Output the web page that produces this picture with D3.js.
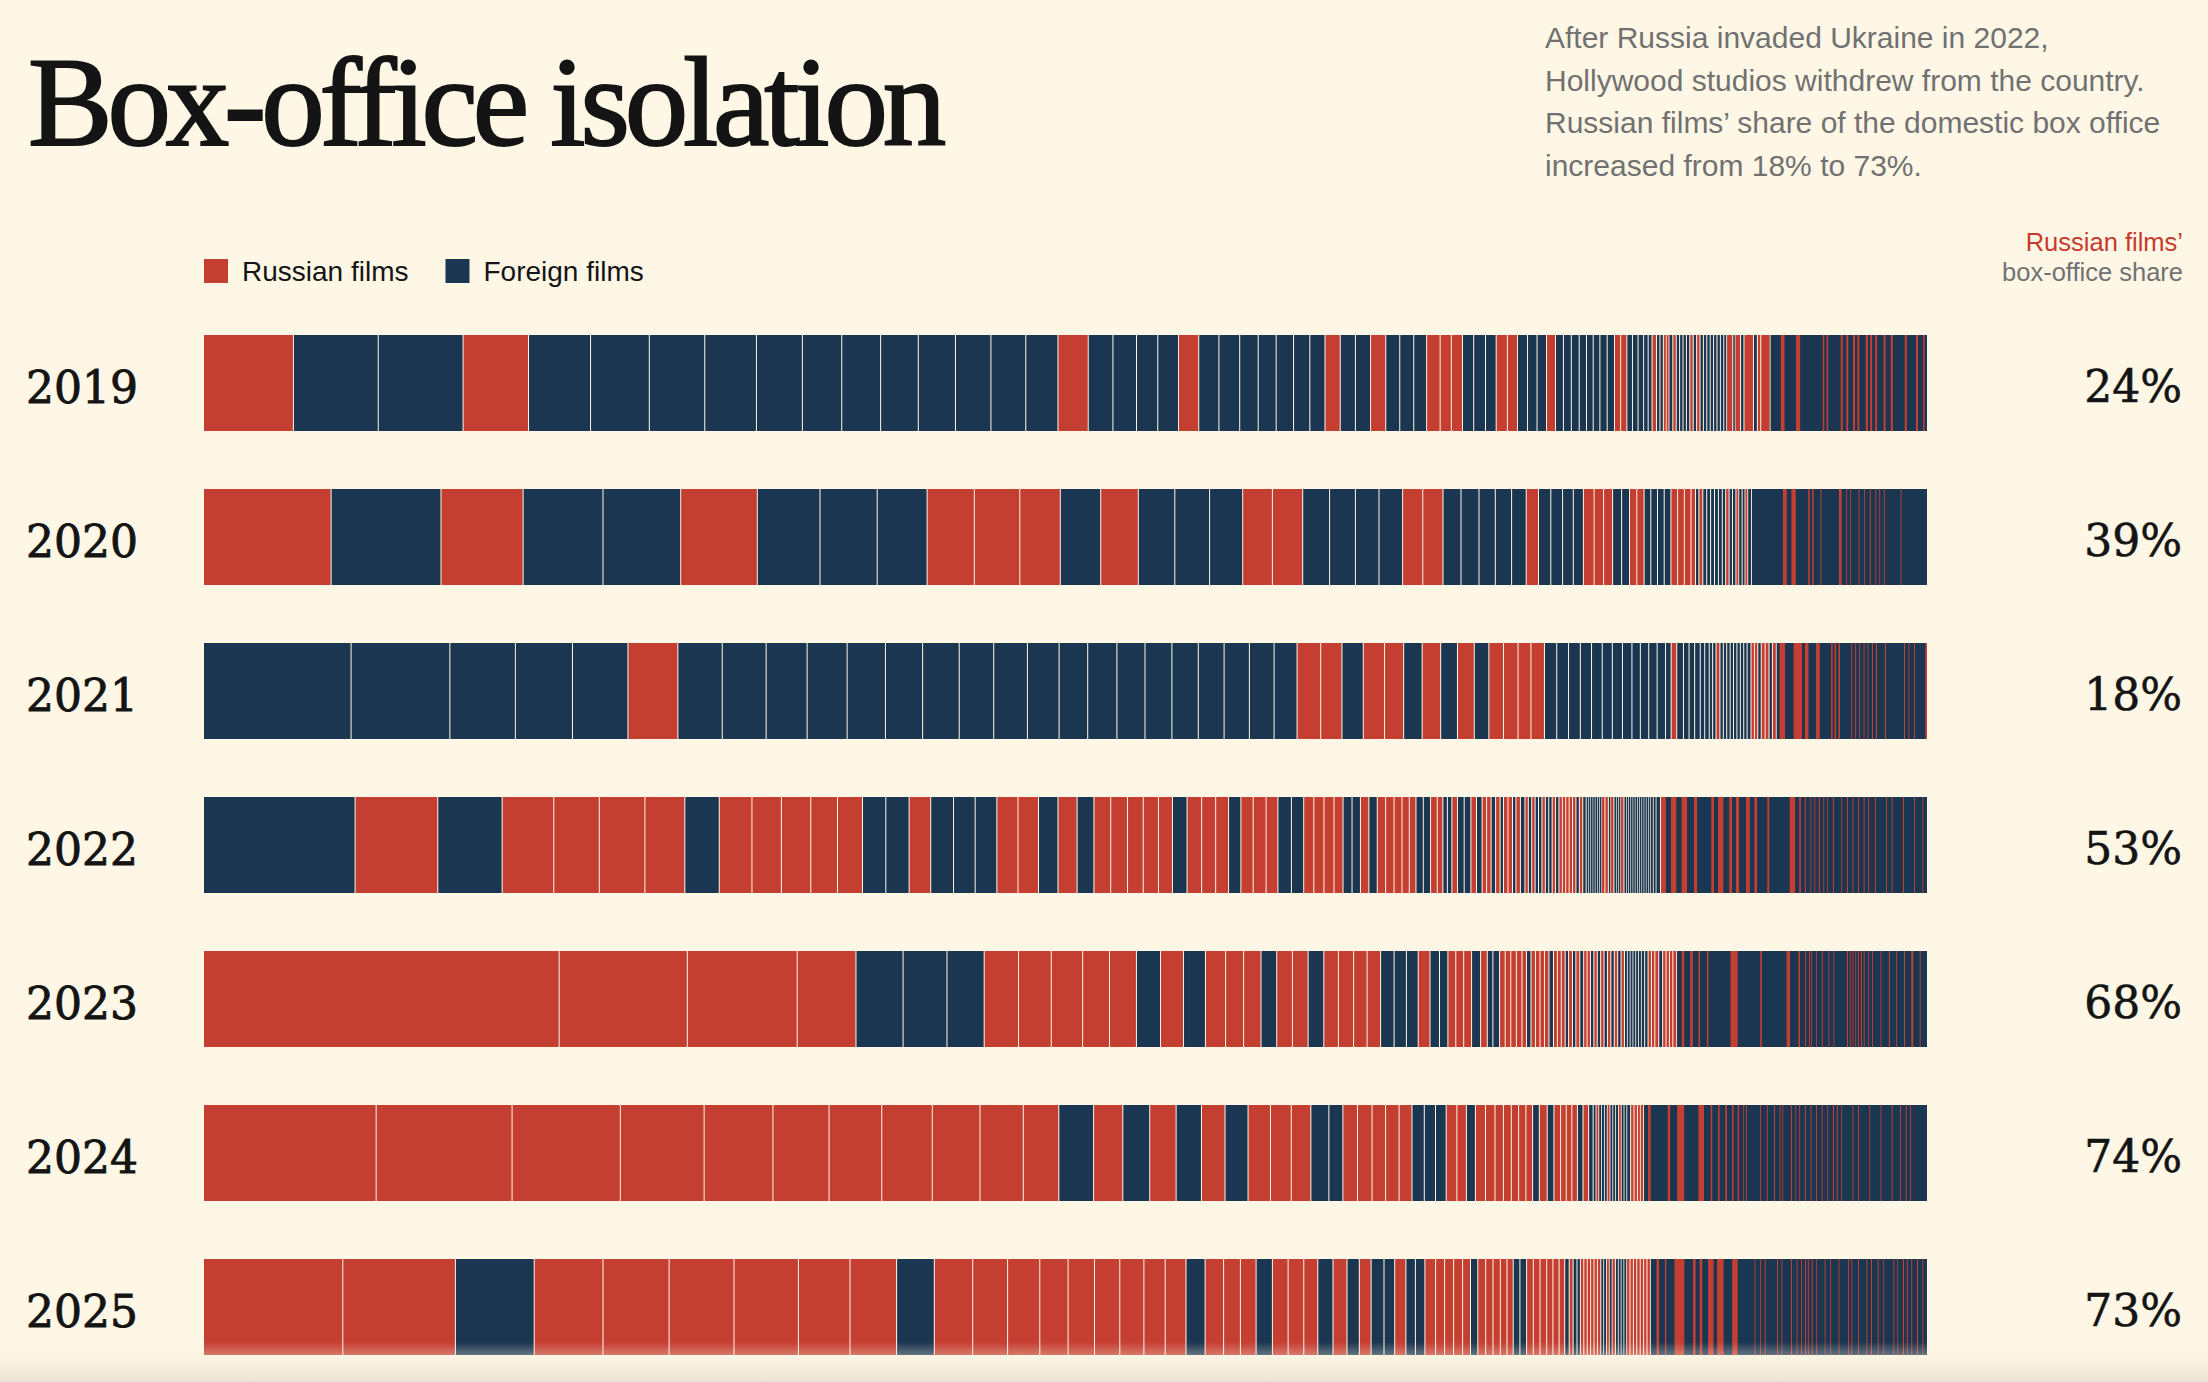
<!DOCTYPE html>
<html>
<head>
<meta charset="utf-8">
<script src="https://cdn.jsdelivr.net/npm/d3@7"></script>
<style>
  body { margin: 0; background: #fef7e6; }
  svg { display: block; }
</style>
</head>
<body>
<div id="chart"></div>
<script>
// Box-office isolation: every film's share of the Russian box office, biggest first
const R = "R", F = "F";
const years = ["2019", "2020", "2021", "2022", "2023", "2024", "2025"];
const russianShare = [24, 39, 18, 53, 68, 74, 73];

// [kind, share] per film, in box-office order; "tail" = films too small to draw apart
const films2019 = [[R,90],[F,84.9],[F,84.9],[R,65.5],[F,62.1],[F,58.8],[F,55.5],[F,51.7],[F,46.0],[F,39.4],[F,38.9],[F,37.7],[F,37.2],[F,35.5],[F,34.9],[F,32.2],
  [R,30.3],[F,24.7],[F,23.6],[F,21.3],[F,20.8],[R,20.2],[F,20.2],[F,20.8],[F,18.5],[F,18.0],[F,17.4],[F,16.3],[F,15.2],[R,15.2],[F,15.2],[F,15.2],[R,15.2],[F,14.0],[F,14.0],[F,12.9],
  [R,13.5],[R,11.2],[R,11.2],[F,11.2],[F,11.8],[F,10.7],[R,11.2],[R,10.1],[F,10.1],[F,9.5],[F,9.5],[R,9.0],[F,7.9],[F,7.9],[F,7.9],[F,7.3],[F,6.7],[F,6.7],[F,7.3],[F,7.3],
  [R,6.2],[R,6.2],[F,5.6],[F,5.6],[F,5.6],[F,4.5],[F,3.9],[R,4.5],[F,3.4],[F,3.4],[R,2.8],[R,2.8],[F,3.9],[R,3.4],[F,3.4],[F,3.4],[F,3.4],[F,3.4],[R,3.4],[F,3.4],[R,3.4],
  [F,3.4],[F,3.4],[F,3.4],[F,3.4],[F,3.4],[F,3.4],[F,3.4],[F,2.8],[R,6.2],[F,2.2],[R,5.6],[F,3.4],[R,9.5],[F,3.9],[R,3.4],[R,9.5]];
const tail2019 = [[F,10.1],[R,3.9],[F,11.2],[R,4.5],[F,22.4],[R,1.7],[F,2.2],[R,1.7],[F,12.3],[R,2.2],[F,3.4],[R,2.2],[F,4.5],[R,2.2],[F,2.2],[R,2.2],[F,6.2],[R,2.2],
  [F,2.2],[R,2.2],[F,2.8],[R,2.2],[F,6.2],[R,2.2],[F,5.0],[R,2.2],[F,11.8],[R,2.2],[F,9.0],[R,2.2],[F,5.0],[R,1.7],[F,2.2]];

const films2020 = [[R,127.6],[F,109.9],[R,82.1],[F,79.9],[F,77.7],[R,76.6],[F,62.7],[F,57.2],[F,49.9],[R,47.2],[R,45.5],[R,40.5],[F,40.4],[R,37.6],[F,36.5],[F,34.8],[F,33.1],
  [R,29.7],[R,30.3],[F,26.9],[F,25.8],[F,23.6],[F,23.6],[R,20.2],[R,20.2],[F,18.0],[F,18.0],[F,16.3],[F,16.3],[F,14.6],[R,12.3],[F,12.3],[F,11.8],[F,10.7],[F,10.1],
  [R,10.7],[R,9.5],[R,9.0],[F,9.0],[F,7.9],[R,7.3],[R,7.3],[F,6.7],[F,6.7],[F,6.7],[F,6.7],[R,6.7],[R,6.7],[R,6.7],[R,4.5],[F,3.4],[R,3.9],[F,3.9],[F,3.9],[F,3.9],
  [F,3.9],[F,3.9],[F,3.4],[R,3.4],[F,3.4],[F,3.4],[R,2.8],[F,3.4],[F,2.8],[R,2.8],[F,3.9]];
const tail2020 = [[F,30.9],[R,3.9],[F,4.5],[R,4.5],[F,12.3],[R,1.7],[F,2.2],[R,1.7],[F,6.7],[R,1.1],[F,17.4],[R,2.8],[F,4.5],[R,1.1],[F,2.8],[R,1.1],[F,7.3],[R,1.1],
  [F,4.5],[R,1.1],[F,4.5],[R,1.1],[F,4.5],[R,1.1],[F,2.8],[R,1.1],[F,3.4],[R,1.1],[F,15.7],[R,1.1],[F,25.3]];

const films2021 = [[F,147.6],[F,98.8],[F,65.5],[F,57.1],[F,55.5],[R,49.9],[F,44.4],[F,43.9],[F,41.0],[F,40.0],[F,38.3],[F,37.2],[F,36.6],[F,34.5],[F,33.7],[F,31.7],
  [F,28.6],[F,29.2],[F,28.1],[F,26.9],[F,26.4],[F,25.8],[F,25.3],[F,24.7],[F,23.0],[R,23.6],[R,21.3],[F,21.3],[R,21.3],[R,19.1],[F,18.5],[R,18.5],[F,16.8],[R,16.8],
  [F,14.6],[R,14.6],[R,14.6],[R,12.9],[R,13.5],[F,12.3],[F,11.8],[F,11.8],[F,11.2],[F,10.7],[F,10.1],[F,10.1],[F,9.5],[F,8.4],[F,8.4],[F,8.4],[F,8.4],[F,5.6],[R,5.6],
  [F,6.7],[F,5.6],[F,5.6],[F,5.6],[F,4.5],[F,4.5],[F,3.4],[F,3.4],[R,3.9],[F,3.4],[F,3.4],[F,3.4],[F,3.4],[F,3.4],[F,3.4],[F,3.4],[F,3.4],[F,3.9],[R,3.4],[R,3.4],
  [F,3.4],[R,3.9],[R,3.9],[F,3.4],[R,3.9]];
const tail2021 = [[F,2.8],[R,5.6],[F,8.4],[R,8.4],[F,2.8],[R,3.9],[F,7.3],[R,3.9],[F,11.2],[R,1.7],[F,1.7],[R,1.7],[F,2.2],[R,1.7],[F,11.2],[R,1.1],[F,2.8],[R,1.1],
  [F,2.8],[R,1.1],[F,3.4],[R,1.1],[F,2.8],[R,1.1],[F,3.4],[R,1.1],[F,2.8],[R,1.1],[F,7.9],[R,1.1],[F,18.0],[R,1.1],[F,3.4],[R,1.1],[F,4.5],[R,1.1],[F,10.1],[R,1.7]];

const films2022 = [[F,151.5],[R,82.7],[F,64.3],[R,51.6],[R,45.5],[R,45.6],[R,39.9],[F,34.4],[R,32.7],[R,29.4],[R,29.4],[R,26.7],[R,25.0],[F,23.3],[F,23.3],[R,21.6],
  [F,22.8],[F,21.6],[F,21.7],[R,21.1],[R,20.5],[F,19.5],[R,19.1],[F,16.8],[R,16.8],[R,16.8],[R,15.7],[R,15.2],[R,14.0],[F,14.6],[R,14.6],[R,14.0],[R,12.9],[F,12.3],
  [R,12.3],[R,12.9],[R,11.8],[F,13.5],[F,12.3],[R,10.1],[R,10.1],[R,10.1],[R,9.0],[F,9.0],[F,8.4],[R,8.4],[F,8.4],[R,8.4],[R,8.4],[R,7.9],[R,7.3],[R,6.7],[F,7.3],
  [F,7.3],[R,6.7],[R,5.6],[F,4.5],[F,4.5],[R,5.6],[F,6.7],[F,6.7],[R,5.6],[F,5.6],[R,4.5],[R,4.5],[F,4.5],[R,4.5],[F,3.4],[R,4.5],[R,4.5],[F,3.4],[R,4.5],[F,4.5],
  [R,3.4],[F,3.4],[R,3.4],[F,3.4],[F,3.4],[R,3.4],[F,3.4],[F,3.4],[R,3.4],[F,3.4],[R,3.4],[R,3.4],[R,3.4],[R,3.4],[R,3.4],[F,3.4],[R,3.4],[F,3.4],[F,2.2],[F,2.2],
  [F,2.2],[F,2.2],[F,2.2],[F,2.2],[F,2.2],[R,3.4],[R,3.4],[F,2.2],[R,3.4],[F,2.2],[F,2.2],[F,2.2],[R,3.4],[F,2.2],[F,2.2],[F,2.2],[F,2.2],[F,2.2],[F,2.2],[F,2.2],
  [F,2.2],[F,2.2],[F,2.2],[F,2.2],[F,2.2],[F,2.8],[F,2.8],[F,4.5]];
const tail2022 = [[R,5.0],[F,5.0],[R,5.6],[F,5.0],[R,5.6],[F,6.7],[R,3.4],[F,14.0],[R,2.8],[F,3.9],[R,5.6],[F,5.6],[R,2.8],[F,3.9],[R,3.4],[F,6.7],[R,3.9],[F,4.5],
  [R,2.8],[F,10.1],[R,2.2],[F,20.2],[R,5.6],[F,3.9],[R,1.7],[F,3.9],[R,1.1],[F,4.5],[R,1.1],[F,2.8],[R,1.1],[F,3.4],[R,1.1],[F,3.4],[R,1.1],[F,2.8],[R,1.1],[F,4.5],
  [R,1.1],[F,7.3],[R,1.1],[F,4.5],[R,1.1],[F,4.5],[R,1.1],[F,4.5],[R,1.1],[F,4.5],[R,1.1],[F,3.4],[R,1.1],[F,5.6],[R,1.1],[F,10.1],[R,1.1],[F,4.5],[R,1.1],[F,10.1],
  [R,1.1],[F,10.1],[R,1.1],[F,7.3],[R,1.1],[F,3.4]];

const films2023 = [[R,355.7],[R,128.2],[R,109.9],[R,58.8],[F,47.1],[F,43.9],[F,37.2],[R,34.4],[R,32.7],[R,31.4],[R,26.9],[R,26.9],[F,24.1],[R,23.0],[F,21.9],[R,20.2],
  [R,18.0],[R,17.4],[F,15.7],[R,15.7],[R,15.7],[F,15.7],[R,14.6],[R,15.2],[R,13.5],[R,13.5],[F,13.5],[F,12.3],[F,11.8],[R,11.8],[F,9.5],[F,8.4],[R,7.9],[R,7.9],
  [R,7.9],[F,9.0],[R,6.7],[F,5.6],[F,6.7],[R,5.6],[R,5.6],[R,5.6],[R,5.6],[R,4.5],[F,4.5],[R,4.5],[R,4.5],[R,4.5],[R,4.5],[F,4.5],[R,3.9],[R,3.9],[R,3.9],[F,3.4],
  [R,3.9],[F,3.4],[R,3.9],[F,3.9],[R,3.4],[R,3.4],[F,3.4],[R,3.4],[F,3.4],[R,3.4],[F,3.4],[R,3.4],[F,3.4],[R,3.4],[F,3.4],[R,3.4],[F,2.8],[F,2.8],[F,2.8],[F,2.8],
  [F,2.8],[F,2.8],[F,3.4],[F,3.4],[R,3.4],[R,3.4],[R,3.9],[F,3.9],[R,3.4],[R,3.4],[R,3.4],[R,3.9]];
const tail2023 = [[F,4.5],[R,2.8],[F,5.6],[R,2.8],[F,5.6],[R,1.7],[F,6.7],[R,1.7],[F,21.9],[R,7.3],[F,22.4],[R,1.7],[F,24.7],[R,3.4],[F,8.4],[R,1.7],[F,5.0],[R,1.1],
  [F,2.8],[R,1.1],[F,1.1],[R,1.1],[F,3.9],[R,1.1],[F,4.5],[R,1.1],[F,5.6],[R,1.1],[F,3.9],[R,1.1],[F,12.3],[R,1.1],[F,1.7],[R,1.1],[F,1.7],[R,1.1],[F,1.7],[R,1.1],
  [F,1.7],[R,1.1],[F,1.7],[R,1.1],[F,1.7],[R,1.1],[F,3.4],[R,1.1],[F,2.8],[R,1.1],[F,7.3],[R,1.1],[F,7.3],[R,1.1],[F,6.2],[R,1.1],[F,6.7],[R,1.1],[F,6.2],[R,2.2],
  [F,6.2],[R,1.1],[F,6.2]];

const films2024 = [[R,172.6],[R,135.9],[R,108.2],[R,83.8],[R,68.8],[R,56.1],[R,52.7],[R,50.5],[R,47.7],[R,43.3],[R,35.5],[F,34.8],[R,29.2],[F,26.9],[R,26.4],[F,25.3],
  [R,23.6],[F,23.0],[R,22.4],[R,20.8],[R,19.6],[F,18.0],[F,14.0],[R,14.6],[R,14.6],[R,13.5],[R,13.5],[R,12.9],[F,12.3],[F,11.2],[F,10.7],[R,10.7],[R,9.5],[F,9.0],
  [R,10.1],[R,9.5],[R,8.4],[R,7.9],[R,7.3],[R,7.3],[R,6.7],[F,6.7],[R,7.9],[F,6.7],[R,6.7],[R,5.6],[R,5.6],[R,5.6],[F,5.6],[R,5.6],[F,4.5],[F,2.8],[R,2.8],[F,2.8],
  [F,2.8],[F,2.8],[R,2.8],[F,2.8],[F,2.8],[F,2.8],[R,2.8],[F,2.8],[F,2.8],[F,3.9],[R,3.4],[R,3.4],[R,2.8],[R,3.4]];
const tail2024 = [[F,3.9],[R,2.8],[F,16.8],[R,2.8],[F,6.7],[R,7.3],[F,14.0],[R,5.6],[F,6.7],[R,1.7],[F,5.6],[R,1.7],[F,5.6],[R,1.7],[F,5.0],[R,1.7],[F,3.9],[R,1.7],
  [F,3.9],[R,1.1],[F,1.7],[R,1.1],[F,12.9],[R,1.1],[F,5.6],[R,1.1],[F,6.2],[R,1.1],[F,4.5],[R,1.1],[F,1.7],[R,1.1],[F,7.3],[R,1.1],[F,3.4],[R,1.1],[F,2.8],[R,1.1],
  [F,4.5],[R,1.1],[F,4.5],[R,1.1],[F,4.5],[R,1.1],[F,4.5],[R,1.1],[F,4.5],[R,1.1],[F,4.5],[R,1.1],[F,2.8],[R,1.1],[F,3.4],[R,1.1],[F,10.1],[R,1.1],[F,4.5],[R,1.1],
  [F,10.1],[R,1.1],[F,10.1],[R,1.1],[F,10.1],[R,1.1],[F,7.3],[R,1.1],[F,4.5],[R,1.1],[F,3.4],[R,1.1],[F,15.7]];

const films2025 = [[R,139.3],[R,112.6],[F,78.8],[R,68.8],[R,66.1],[R,64.9],[R,64.4],[R,51.6],[R,46.6],[F,37.7],[R,38.4],[R,34.9],[R,32.2],[R,28.3],[R,26.4],[R,25.3],
  [R,24.1],[R,21.3],[R,20.8],[F,19.1],[R,18.5],[R,16.8],[R,15.7],[F,16.3],[R,15.7],[R,15.7],[R,14.0],[F,15.2],[R,14.0],[F,12.3],[R,11.8],[F,12.9],[F,10.7],[R,11.2],
  [F,9.5],[F,9.5],[R,10.7],[R,9.0],[R,9.0],[R,9.0],[R,7.9],[F,7.3],[R,7.9],[R,7.3],[R,7.3],[R,6.7],[R,6.2],[F,6.7],[F,6.7],[R,6.7],[R,6.7],[R,6.7],[R,6.2],[R,6.2],
  [R,5.6],[F,4.5],[R,3.9],[F,3.9],[F,3.4],[R,3.4],[R,3.4],[R,3.4],[R,3.4],[R,3.4],[R,3.4],[F,2.8],[F,2.8],[R,2.8],[F,2.8],[R,3.4],[F,2.8],[F,2.8],[F,2.8],[F,2.8],
  [R,3.4],[R,3.4],[R,3.4],[R,3.4],[R,3.4],[R,3.4],[R,3.4]];
const tail2025 = [[F,5.6],[R,2.8],[F,5.6],[R,1.7],[F,7.9],[R,10.1],[F,8.4],[R,2.8],[F,3.9],[R,2.8],[F,5.6],[R,5.6],[F,3.4],[R,6.7],[F,8.4],[R,5.6],[F,16.8],[R,1.1],
  [F,4.5],[R,1.1],[F,3.4],[R,1.1],[F,11.2],[R,1.1],[F,3.4],[R,1.1],[F,8.4],[R,1.1],[F,4.5],[R,1.1],[F,3.4],[R,1.1],[F,2.8],[R,1.1],[F,1.7],[R,1.1],[F,2.8],[R,1.1],
  [F,3.4],[R,1.1],[F,7.3],[R,1.1],[F,4.5],[R,1.1],[F,7.3],[R,1.1],[F,8.4],[R,1.1],[F,2.2],[R,1.1],[F,5.6],[R,1.1],[F,7.3],[R,1.1],[F,3.4],[R,1.1],[F,5.6],[R,1.1],
  [F,4.5],[R,1.1],[F,9.0],[R,1.1],[F,2.8],[R,1.1],[F,4.5],[R,1.1],[F,2.8],[R,1.1],[F,3.4],[R,1.1],[F,4.5],[R,1.1],[F,4.5],[R,1.1],[F,3.4]];

const filmsByYear = [films2019, films2020, films2021, films2022, films2023, films2024, films2025];
const tailsByYear = [tail2019, tail2020, tail2021, tail2022, tail2023, tail2024, tail2025];

const width = 2208, height = 1382;
const barLeft = 204, barRight = 1927, barTop = 335, barBottom = 1355;
const bg = "#fef7e6", red = "#c43e32", navy = "#1b3650", ink = "#141414", grey = "#717171";
const color = k => k === R ? red : navy;
const serif = "'DejaVu Serif', serif", sans = "'Liberation Sans', Arial, sans-serif";
// gap between neighbouring films: about a pixel, thinner for the slimmest ones
const gapFor = w => Math.min(1, 0.3 * w);

const svg = d3.select("#chart").append("svg")
  .attr("width", width).attr("height", height).attr("viewBox", `0 0 ${width} ${height}`);

svg.append("rect").attr("width", width).attr("height", height).attr("fill", bg);

// Title and standfirst
svg.append("text").attr("x", 28).attr("y", 145)
  .attr("font-family", "'Liberation Serif', serif").attr("font-size", 127)
  .attr("letter-spacing", -5.2).attr("fill", ink).attr("stroke", ink).attr("stroke-width", 2)
  .text("Box-office isolation");

const standfirst = ["After Russia invaded Ukraine in 2022,", "Hollywood studios withdrew from the country.",
  "Russian films\u2019 share of the domestic box office", "increased from 18% to 73%."];
svg.append("g").selectAll("text").data(standfirst).join("text")
  .attr("x", 1545).attr("y", (d, i) => 48 + i * 42.7)
  .attr("font-family", sans).attr("font-size", 30).attr("fill", grey).text(d => d);

// Legend
const legend = svg.append("g").attr("transform", "translate(204,259)");
let lx = 0;
[[R, "Russian films"], [F, "Foreign films"]].forEach(([k, label]) => {
  legend.append("rect").attr("x", lx).attr("y", 0).attr("width", 24).attr("height", 24).attr("fill", color(k));
  const t = legend.append("text").attr("x", lx + 38).attr("y", 22)
    .attr("font-family", sans).attr("font-size", 28).attr("fill", ink).text(label);
  lx += 38 + t.node().getComputedTextLength() + 37;
});

// Right-hand column header
svg.append("text").attr("x", 2183).attr("y", 251).attr("text-anchor", "end")
  .attr("font-family", sans).attr("font-size", 25.5).attr("fill", "#c8392d").text("Russian films\u2019");
svg.append("text").attr("x", 2183).attr("y", 281).attr("text-anchor", "end")
  .attr("font-family", sans).attr("font-size", 25.5).attr("fill", grey).text("box-office share");

const y = d3.scaleBand().domain(years).range([barTop, barBottom]).paddingInner(58 / 154).paddingOuter(0);

years.forEach((yr, i) => {
  const films = filmsByYear[i].map(d => ({kind: d[0], v: d[1], tail: false}));
  const tail = tailsByYear[i].map(d => ({kind: d[0], v: d[1], tail: true}));
  const all = films.concat(tail);
  let acc = 0;
  all.forEach(d => { d.x0 = acc; acc += d.v; d.x1 = acc; });
  const x = d3.scaleLinear().domain([0, acc]).range([barLeft, barRight]);
  const row = svg.append("g").attr("class", "row");
  const top = y(yr), h = y.bandwidth();

  // films big enough to be told apart, each with a thin gap
  row.selectAll("rect.film").data(films).join("rect").attr("class", "film")
    .attr("x", d => x(d.x0)).attr("y", top)
    .attr("width", d => { const w = x(d.x1) - x(d.x0); return w - gapFor(w); }).attr("height", h)
    .attr("fill", d => color(d.kind));

  // long tail of tiny films: no gaps, drawn over a foreign-film base
  const t0 = tail.length ? tail[0].x0 : acc;
  row.append("rect").attr("x", x(t0)).attr("y", top).attr("width", x(acc) - x(t0)).attr("height", h).attr("fill", navy);
  row.selectAll("rect.tail").data(tail).join("rect").attr("class", "tail")
    .attr("x", d => x(d.x0)).attr("y", top)
    .attr("width", d => x(d.x1) - x(d.x0)).attr("height", h)
    .attr("fill", d => color(d.kind));

  svg.append("text").attr("x", 26).attr("y", top + 68)
    .attr("font-family", serif).attr("font-size", 44).attr("fill", ink)
    .attr("stroke", ink).attr("stroke-width", 0.9)
    .style("font-variant-numeric", "oldstyle-nums").text(yr);
  svg.append("text").attr("x", 2182).attr("y", top + 67).attr("text-anchor", "end")
    .attr("font-family", serif).attr("font-size", 44).attr("fill", ink)
    .attr("stroke", ink).attr("stroke-width", 0.6)
    .style("font-variant-numeric", "oldstyle-nums").text(russianShare[i] + "%");
});

// soft fade at the bottom edge
const grad = svg.append("defs").append("linearGradient").attr("id", "fade")
  .attr("x1", 0).attr("y1", 0).attr("x2", 0).attr("y2", 1);
grad.append("stop").attr("offset", 0).attr("stop-color", bg).attr("stop-opacity", 0);
grad.append("stop").attr("offset", 1).attr("stop-color", "#ebe3d2").attr("stop-opacity", 1);
svg.append("rect").attr("x", 0).attr("y", 1342).attr("width", width).attr("height", height - 1342)
  .attr("fill", "url(#fade)");
</script>
</body>
</html>
